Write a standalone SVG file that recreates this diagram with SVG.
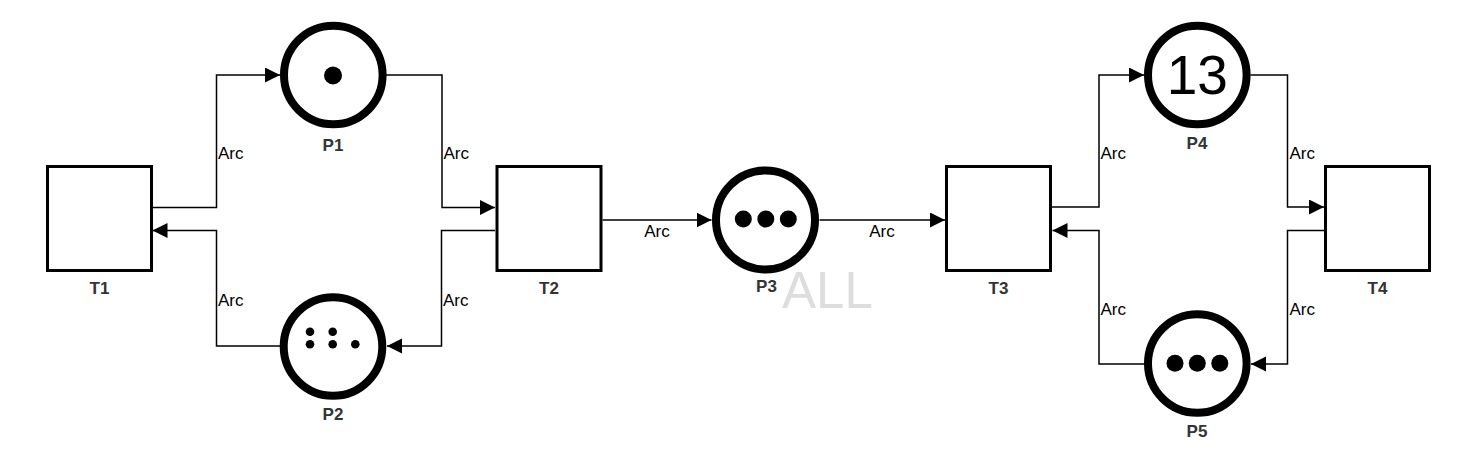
<svg xmlns="http://www.w3.org/2000/svg" width="1474" height="462" viewBox="0 0 1474 462">
<style>
.tr{fill:#fff;stroke:#000;stroke-width:3}
.pl{fill:#fff;stroke:#000;stroke-width:8}
.lbl{font-family:"Liberation Sans",Arial,sans-serif;font-size:17px;font-weight:bold;fill:#333;text-anchor:middle}
.arc{font-family:"Liberation Sans",Arial,sans-serif;font-size:17px;fill:#000}
.c{fill:none;stroke:#000;stroke-width:1.5}
.tok{fill:#000}
</style>
<defs>
<marker id="ah" markerUnits="userSpaceOnUse" markerWidth="16" markerHeight="16" refX="15" refY="7.5" orient="auto">
<path d="M0,0 L15,7.5 L0,15 Z" fill="#000"/>
</marker>
</defs>
<rect width="1474" height="462" fill="#fff"/>
<g id="connectors">
<path class="c" d="M152,207.5 H216.5 V75 H280" marker-end="url(#ah)"/>
<path class="c" d="M383,75 H442 V207.5 H495" marker-end="url(#ah)"/>
<path class="c" d="M495,230.5 H441.5 V346 H387" marker-end="url(#ah)"/>
<path class="c" d="M280,346 H216.5 V230.5 H152.5" marker-end="url(#ah)"/>
<path class="c" d="M602.5,220 H711.5" marker-end="url(#ah)"/>
<path class="c" d="M819.5,220 H945" marker-end="url(#ah)"/>
<path class="c" d="M1052,207 H1099 V75 H1144" marker-end="url(#ah)"/>
<path class="c" d="M1250.5,75 H1287.5 V207 H1324" marker-end="url(#ah)"/>
<path class="c" d="M1324,230.5 H1287.5 V364 H1251" marker-end="url(#ah)"/>
<path class="c" d="M1144,364 H1099 V230.5 H1052.5" marker-end="url(#ah)"/>
<text class="arc" x="218" y="158.5">Arc</text>
<text class="arc" x="443.5" y="158.5">Arc</text>
<text class="arc" x="218" y="306">Arc</text>
<text class="arc" x="443" y="306">Arc</text>
<text class="arc" x="657" y="237" text-anchor="middle">Arc</text>
<text class="arc" x="882" y="237" text-anchor="middle">Arc</text>
<text class="arc" x="1100.5" y="159">Arc</text>
<text class="arc" x="1289.5" y="159">Arc</text>
<text class="arc" x="1100.5" y="315">Arc</text>
<text class="arc" x="1289.5" y="315">Arc</text>
</g>
<g id="T1">
<rect class="tr" x="47.5" y="166.5" width="104" height="104"/>
<text class="lbl" x="99.5" y="293.5">T1</text>
</g>
<g id="T2">
<rect class="tr" x="497" y="166.5" width="104" height="104"/>
<text class="lbl" x="549" y="293.5">T2</text>
</g>
<g id="T3">
<rect class="tr" x="946.5" y="166.5" width="104" height="104"/>
<text class="lbl" x="998.5" y="293.5">T3</text>
</g>
<g id="T4">
<rect class="tr" x="1325.5" y="166.5" width="104" height="104"/>
<text class="lbl" x="1377.5" y="294">T4</text>
</g>
<g id="P1">
<circle class="pl" cx="333.3" cy="75" r="49.3"/>
<circle class="tok" cx="333" cy="75.5" r="9"/>
<text class="lbl" x="333" y="150.5">P1</text>
</g>
<g id="P2">
<circle class="pl" cx="333" cy="346.5" r="49.3"/>
<circle class="tok" cx="310" cy="331.7" r="4.3"/>
<circle class="tok" cx="332.7" cy="331.7" r="4.3"/>
<circle class="tok" cx="310" cy="344.3" r="4.3"/>
<circle class="tok" cx="332.7" cy="344.3" r="4.3"/>
<circle class="tok" cx="355.3" cy="344.3" r="4.3"/>
<text class="lbl" x="333" y="419.5">P2</text>
</g>
<g id="P3">
<circle class="pl" cx="765.5" cy="220" r="49.5"/>
<circle class="tok" cx="743.3" cy="219" r="8.5"/>
<circle class="tok" cx="765.8" cy="219" r="8.5"/>
<circle class="tok" cx="788.3" cy="219" r="8.5"/>
<text class="lbl" x="766.5" y="292">P3</text>
<text x="782" y="308" font-family="'Liberation Sans',Arial,sans-serif" font-size="51" fill="#dddddd">ALL</text>
</g>
<g id="P4">
<circle class="pl" cx="1197.3" cy="75" r="49.3"/>
<text x="1197.3" y="93.5" font-family="'Liberation Sans',Arial,sans-serif" font-size="55" fill="#000" text-anchor="middle">13</text>
<text class="lbl" x="1197" y="149">P4</text>
</g>
<g id="P5">
<circle class="pl" cx="1197.3" cy="363.5" r="49.3"/>
<circle class="tok" cx="1175" cy="363.3" r="8.5"/>
<circle class="tok" cx="1197.3" cy="363.3" r="8.5"/>
<circle class="tok" cx="1219.8" cy="363.3" r="8.5"/>
<text class="lbl" x="1197" y="437">P5</text>
</g>
</svg>
